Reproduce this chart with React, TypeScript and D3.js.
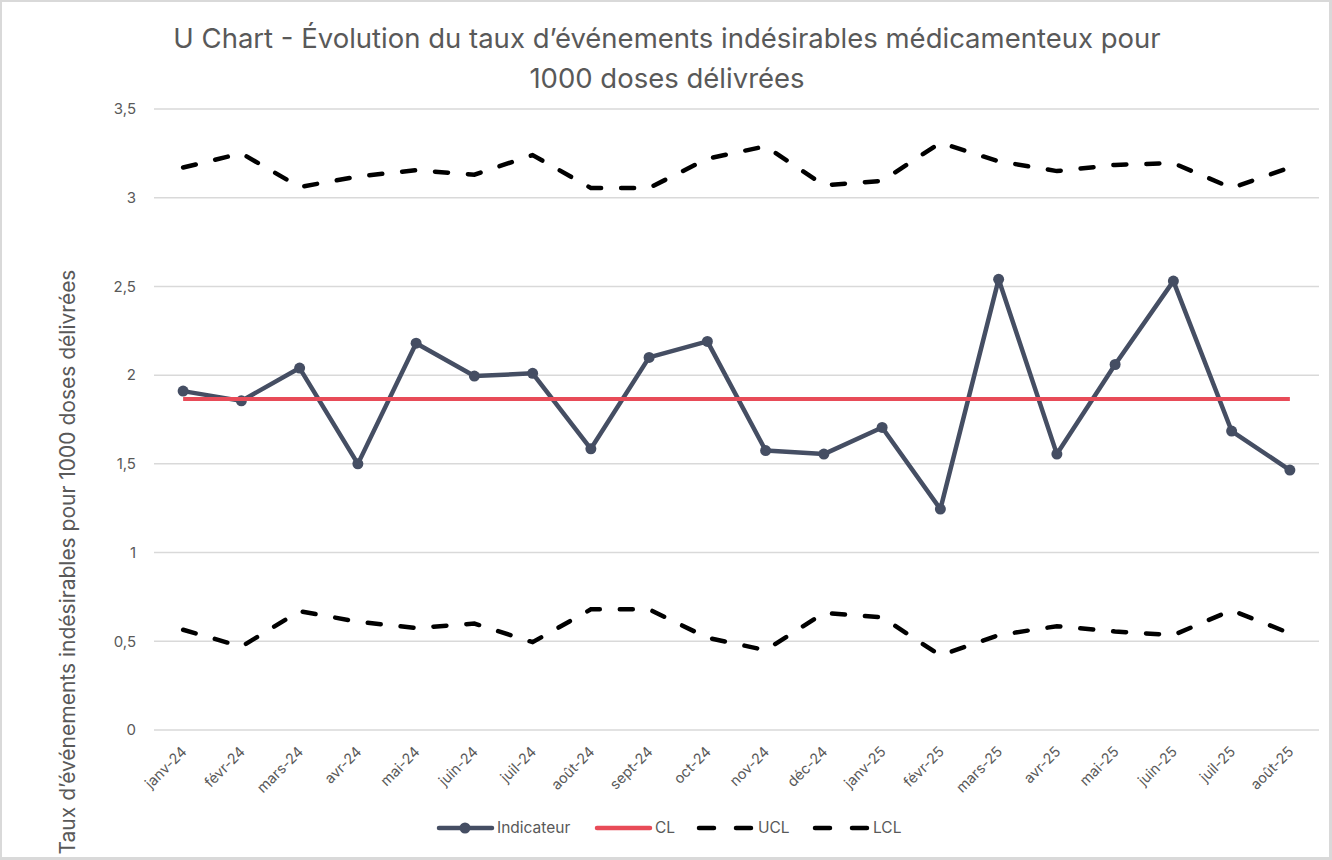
import * as d3 from 'd3';
import React, { useEffect, useRef } from 'react';

// Months (x categories)
const months = [
  'janv-24', 'févr-24', 'mars-24', 'avr-24', 'mai-24', 'juin-24', 'juil-24', 'août-24', 'sept-24', 'oct-24',
  'nov-24', 'déc-24', 'janv-25', 'févr-25', 'mars-25', 'avr-25', 'mai-25', 'juin-25', 'juil-25', 'août-25',
];

// Rate of adverse drug events per 1000 doses
const indicateur = [
  1.91, 1.855, 2.04, 1.5, 2.18, 1.995, 2.01, 1.585, 2.1, 2.19,
  1.575, 1.555, 1.705, 1.245, 2.54, 1.555, 2.06, 2.53, 1.685, 1.465,
];

const clValue = 1.866;

const ucl = [
  3.17, 3.25, 3.06, 3.12, 3.155, 3.13, 3.24, 3.055, 3.055, 3.22,
  3.29, 3.07, 3.095, 3.31, 3.205, 3.15, 3.185, 3.195, 3.055, 3.17,
];

const lcl = [
  0.565, 0.47, 0.67, 0.61, 0.575, 0.6, 0.495, 0.68, 0.68, 0.52,
  0.45, 0.66, 0.635, 0.42, 0.535, 0.585, 0.555, 0.535, 0.675, 0.545,
];

const yTicks = [0, 0.5, 1, 1.5, 2, 2.5, 3, 3.5];

const W = 1332;
const H = 860;
const FONT = 'Inter, "Open Sans", sans-serif';
const GREY_TEXT = '#595959';
const NAVY = '#454E63';
const RED = '#E84B58';

const App: React.FC = () => {
  const svgRef = useRef<SVGSVGElement | null>(null);

  useEffect(() => {
    const svg = d3.select(svgRef.current);
    svg.selectAll('*').remove();

    // frame
    svg.append('rect').attr('width', W).attr('height', H).attr('fill', '#d9d9d9');
    svg.append('rect').attr('x', 2).attr('y', 2).attr('width', W - 5).attr('height', H - 5).attr('fill', '#fff');

    const left = 154;
    const right = 1319;
    const top = 109;
    const bottom = 730;

    const x = d3.scaleBand<string>().domain(months).range([left, right]);
    const cx = (m: string) => (x(m) as number) + x.bandwidth() / 2;
    const y = d3.scaleLinear().domain([0, 3.5]).range([bottom, top]);

    // gridlines
    svg.append('g')
      .selectAll('line')
      .data(yTicks)
      .enter()
      .append('line')
      .attr('x1', left)
      .attr('x2', right)
      .attr('y1', d => y(d))
      .attr('y2', d => y(d))
      .attr('stroke', '#d9d9d9')
      .attr('stroke-width', 1.5);

    // y tick labels
    svg.append('g')
      .selectAll('text')
      .data(yTicks)
      .enter()
      .append('text')
      .attr('x', 136)
      .attr('y', d => y(d))
      .attr('dy', '0.35em')
      .attr('text-anchor', 'end')
      .attr('font-family', FONT)
      .attr('font-size', 15)
      .attr('fill', GREY_TEXT)
      .text(d => String(d).replace('.', ','));

    // x tick labels
    svg.append('g')
      .selectAll('text')
      .data(months)
      .enter()
      .append('text')
      .attr('transform', d => `translate(${cx(d) + 1},${749}) rotate(-45)`)
      .attr('text-anchor', 'end')
      .attr('dy', '0.35em')
      .attr('font-family', FONT)
      .attr('font-size', 14.5)
      .attr('fill', GREY_TEXT)
      .text(d => d);

    const line = d3.line<number>()
      .x((_, i) => cx(months[i]))
      .y(d => y(d));

    const dashed = (data: number[]) =>
      svg.append('path')
        .datum(data)
        .attr('d', line)
        .attr('fill', 'none')
        .attr('stroke', '#000')
        .attr('stroke-width', 4.5)
        .attr('stroke-linecap', 'round')
        .attr('stroke-dasharray', '13 20');

    dashed(ucl);
    dashed(lcl);

    // indicator
    svg.append('path')
      .datum(indicateur)
      .attr('d', line)
      .attr('fill', 'none')
      .attr('stroke', NAVY)
      .attr('stroke-width', 4.5)
      .attr('stroke-linejoin', 'round');

    svg.append('g')
      .selectAll('circle')
      .data(indicateur)
      .enter()
      .append('circle')
      .attr('cx', (_, i) => cx(months[i]))
      .attr('cy', d => y(d))
      .attr('r', 5.5)
      .attr('fill', NAVY);

    // centre line
    svg.append('line')
      .attr('x1', cx(months[0]))
      .attr('x2', cx(months[months.length - 1]))
      .attr('y1', y(clValue))
      .attr('y2', y(clValue))
      .attr('stroke', RED)
      .attr('stroke-width', 4);

    // title
    const title = svg.append('text')
      .attr('text-anchor', 'middle')
      .attr('font-family', FONT)
      .attr('font-size', 27.5)
      .attr('fill', GREY_TEXT);
    title.append('tspan').attr('x', 667).attr('y', 48)
      .text('U Chart - Évolution du taux d’événements indésirables médicamenteux pour');
    title.append('tspan').attr('x', 667).attr('y', 88)
      .text('1000 doses délivrées');

    // y axis title
    svg.append('text')
      .attr('transform', `translate(75,562) rotate(-90)`)
      .attr('text-anchor', 'middle')
      .attr('font-family', FONT)
      .attr('font-size', 21)
      .attr('fill', GREY_TEXT)
      .text('Taux d’événements indésirables pour 1000 doses délivrées');

    // legend
    const ly = 828;
    const lg = svg.append('g');
    lg.append('line').attr('x1', 439).attr('x2', 492).attr('y1', ly).attr('y2', ly)
      .attr('stroke', NAVY).attr('stroke-width', 4.5).attr('stroke-linecap', 'round');
    lg.append('circle').attr('cx', 465).attr('cy', ly).attr('r', 5.5).attr('fill', NAVY);
    lg.append('line').attr('x1', 597).attr('x2', 650).attr('y1', ly).attr('y2', ly)
      .attr('stroke', RED).attr('stroke-width', 4.5).attr('stroke-linecap', 'round');
    [[699, 753], [815, 869]].forEach(([a, b]) => {
      lg.append('line').attr('x1', a).attr('x2', b).attr('y1', ly).attr('y2', ly)
        .attr('stroke', '#000').attr('stroke-width', 4.5)
        .attr('stroke-linecap', 'round').attr('stroke-dasharray', '15 22');
    });
    const legendText = [
      { t: 'Indicateur', x: 497 },
      { t: 'CL', x: 655 },
      { t: 'UCL', x: 758 },
      { t: 'LCL', x: 873 },
    ];
    lg.selectAll('text')
      .data(legendText)
      .enter()
      .append('text')
      .attr('x', d => d.x)
      .attr('y', ly)
      .attr('dy', '0.35em')
      .attr('font-family', FONT)
      .attr('font-size', 15.5)
      .attr('fill', GREY_TEXT)
      .text(d => d.t);
  }, []);

  return (
    <svg
      ref={svgRef}
      width={W}
      height={H}
      style={{ position: 'absolute', left: 0, top: 0 }}
    />
  );
};

export default App;
